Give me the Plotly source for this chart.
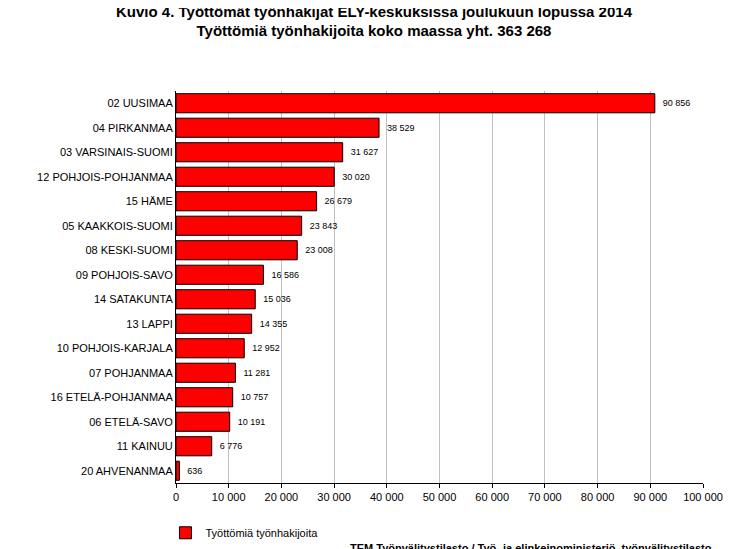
import plotly.graph_objects as go

regions = ["02 UUSIMAA","04 PIRKANMAA","03 VARSINAIS-SUOMI","12 POHJOIS-POHJANMAA","15 HÄME",
           "05 KAAKKOIS-SUOMI","08 KESKI-SUOMI","09 POHJOIS-SAVO","14 SATAKUNTA","13 LAPPI",
           "10 POHJOIS-KARJALA","07 POHJANMAA","16 ETELÄ-POHJANMAA","06 ETELÄ-SAVO","11 KAINUU","20 AHVENANMAA"]
values = [90856,38529,31627,30020,26679,23843,23008,16586,15036,14355,12952,11281,10757,10191,6776,636]
ticks = list(range(0, 100001, 10000))

def fmt(v):
    return f"{v:,}".replace(",", " ")

fig = go.Figure(go.Bar(
    x=values, y=regions, orientation="h",
    marker=dict(color="#ff0000", line=dict(color="black", width=1)),
    text=["  " + fmt(v) for v in values], textposition="outside",
    textfont=dict(size=9, color="black"), cliponaxis=False,
    name="Työttömiä työnhakijoita", showlegend=True,
))
fig.update_layout(
    width=732, height=549,
    paper_bgcolor="white", plot_bgcolor="white",
    font=dict(family="Liberation Sans, Arial", color="black", size=11),
    title=dict(text="<b>Kuvio 4. Työttömät työnhakijat ELY-keskuksissa joulukuun lopussa 2014<br>Työttömiä työnhakijoita koko maassa yht. 363 268</b>",
               x=0.5, xanchor="center", y=0.995, yanchor="top", yref="container",
               pad=dict(t=6), font=dict(size=15)),
    margin=dict(l=168, r=37, t=83, b=74, autoexpand=False),
    bargap=0.22,
    xaxis=dict(range=[0, 100000], tickvals=ticks, ticktext=[fmt(t) for t in ticks],
               showgrid=True, gridcolor="#c0c0c0", gridwidth=1, showline=True, linecolor="black",
               ticks="outside", ticklen=4, tickcolor="black", zeroline=False, tickfont=dict(size=11),
               automargin=False),
    yaxis=dict(categoryorder="array", categoryarray=regions[::-1], showline=True, linecolor="black",
               ticks="", tickfont=dict(size=11), automargin=False),
    legend=dict(x=-0.02, y=-0.09, xanchor="left", yanchor="top", font=dict(size=11)),
    annotations=[dict(text="<b>TEM Työnvälitystilasto / Työ- ja elinkeinoministeriö, työnvälitystilasto</b>",
                      xref="paper", yref="paper", x=1.02, y=-0.145, xanchor="right", yanchor="top",
                      showarrow=False, font=dict(size=11))],
)
fig.write_html("out.html")
